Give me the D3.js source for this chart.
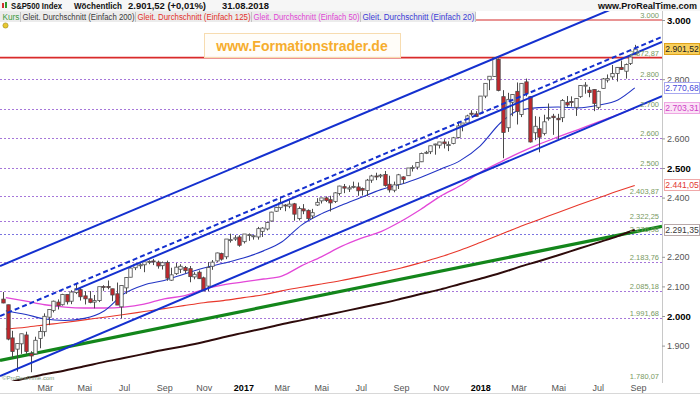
<!DOCTYPE html>
<html>
<head>
<meta charset="utf-8">
<script src="https://cdn.jsdelivr.net/npm/d3@7"></script>
<style>
  body { margin: 0; background: #fff; }
  svg { display: block; font-family: "Liberation Sans", Arial, sans-serif; }
</style>
</head>
<body>
<svg id="chart" width="700" height="394"></svg>
<script>
// weekly candles, first week starts 2015-12-28
var firstWeek = "2015-12-28";
var open = [2057,2038,1926,1888,1906,1936,1873,1872,1924,1947,1996,2019,2047,2038,2073,2050,2079,2089,2068,2058,2047,2052,2100,2100,2092,2075,2031,2095,2131,2163,2173,2173,2184,2186,2182,2170,2181,2121,2143,2158,2164,2160,2132,2148,2129,2101,2168,2186,2211,2200,2258,2260,2267,
  2251,2273,2269,2267,2286,2294,2321,2354,2366,2375,2371,2379,2329,2362,2357,2338,2375,2389,2399,2393,2387,2414,2437,2429,2437,2436,2431,2424,2459,2473,2475,2478,2445,2425,2444,2470,2474,2502,2503,2521,2551,2555,2578,2577,2588,2577,2583,2603,2645,2652,2685,2683,
  2684,2743,2798,2809,2867,2741,2636,2722,2759,2681,2791,2741,2619,2633,2617,2670,2675,2668,2670,2722,2725,2705,2741,2780,2763,2765,2705,2769,2797,2808,2819,2840,2827,2853,2884];
var high = [2081,2038,1950,1908,1940,1947,1881,1930,1963,2009,2022,2052,2056,2075,2073,2087,2111,2096,2084,2084,2071,2094,2104,2120,2092,2113,2103,2131,2169,2175,2178,2183,2188,2193,2187,2184,2187,2163,2179,2175,2169,2169,2148,2154,2133,2182,2189,2214,2214,2260,2278,2273,2273,
  2277,2279,2273,2301,2300,2319,2352,2369,2401,2378,2391,2382,2370,2378,2360,2362,2398,2399,2404,2406,2418,2440,2446,2441,2454,2451,2434,2463,2477,2484,2480,2490,2474,2454,2480,2472,2500,2509,2520,2552,2558,2575,2582,2588,2597,2590,2605,2657,2651,2680,2695,2692,
  2743,2787,2808,2873,2870,2763,2754,2748,2789,2787,2802,2742,2675,2673,2680,2718,2683,2683,2733,2743,2742,2736,2779,2790,2774,2766,2762,2804,2816,2848,2841,2863,2853,2877,2916];
var low = [2043,1918,1857,1812,1872,1872,1810,1872,1891,1931,1969,2012,2022,2035,2039,2040,2074,2052,2039,2043,2026,2047,2085,2090,2050,2037,1992,2075,2131,2155,2159,2148,2175,2172,2160,2157,2119,2119,2139,2145,2144,2114,2124,2125,2084,2084,2156,2183,2187,2192,2248,2254,2234,
  2245,2254,2258,2258,2267,2289,2319,2352,2358,2354,2364,2322,2323,2344,2324,2328,2372,2380,2385,2353,2382,2407,2415,2419,2431,2406,2407,2405,2450,2459,2466,2437,2417,2418,2429,2446,2474,2488,2495,2520,2547,2547,2545,2566,2566,2557,2580,2600,2624,2651,2676,2673,
  2683,2736,2763,2808,2759,2533,2622,2675,2647,2672,2742,2586,2594,2553,2610,2660,2612,2594,2655,2707,2707,2676,2737,2751,2739,2692,2698,2769,2789,2799,2792,2831,2802,2848,2884];
var close = [2044,1922,1880,1907,1940,1880,1865,1918,1948,1999,2022,2050,2035,2073,2048,2081,2092,2065,2058,2046,2052,2099,2099,2096,2071,2037,2103,2130,2162,2175,2173,2183,2184,2184,2169,2180,2128,2139,2165,2168,2153,2133,2141,2126,2085,2164,2182,2213,2192,2260,2258,2264,2239,
  2277,2275,2271,2295,2297,2316,2351,2367,2383,2373,2378,2344,2363,2355,2329,2349,2384,2399,2390,2382,2416,2439,2432,2433,2438,2423,2425,2459,2473,2472,2476,2441,2426,2443,2477,2461,2500,2502,2519,2549,2553,2575,2581,2588,2582,2579,2602,2642,2652,2676,2683,2674,
  2743,2786,2810,2873,2762,2620,2732,2748,2691,2786,2752,2588,2641,2604,2656,2670,2670,2663,2728,2713,2721,2735,2779,2780,2755,2718,2759,2801,2802,2819,2840,2833,2850,2875,2901.52];

// moving averages (monthly samples)
var maDates = ["2016-01-01","2016-02-01","2016-03-01","2016-04-01","2016-05-01","2016-06-01","2016-07-01","2016-08-01","2016-09-01","2016-10-01","2016-11-01","2016-12-01",
  "2017-01-01","2017-02-01","2017-03-01","2017-04-01","2017-05-01","2017-06-01","2017-07-01","2017-08-01","2017-09-01","2017-10-01","2017-11-01","2017-12-01",
  "2018-01-01","2018-02-01","2018-03-01","2018-04-01","2018-05-01","2018-06-01","2018-07-01","2018-08-01","2018-08-27"];
var sma20 = [2018,2005,1990,1985,1992,2018,2075,2105,2120,2141,2162,2178,2196,2220,2250,2308,2345,2374,2400,2427,2445,2468,2496,2525,2575,2652,2694,2704,2706,2703,2712,2730,2770.68];
var sma50 = [2062,2050,2038,2030,2027,2027,2030,2040,2058,2068,2090,2105,2115,2125,2135,2170,2200,2235,2262,2285,2320,2360,2405,2440,2485,2520,2550,2580,2605,2630,2655,2680,2703.31];
var sma125 = [1956,1962,1970,1978,1987,1996,2005,2015,2025,2035,2045,2052,2062,2072,2085,2097,2108,2120,2133,2147,2162,2180,2200,2222,2248,2275,2300,2325,2350,2375,2398,2422,2441.05];
var sma200 = [1772,1790,1803,1816,1830,1845,1858,1872,1886,1898,1912,1928,1943,1958,1972,1986,2000,2014,2028,2042,2058,2074,2090,2108,2126,2145,2165,2185,2205,2227,2248,2270,2291.35];

// drawn trend lines: [date, value] end points
var channelUpper = [["2015-12-23", 2169], ["2018-10-08", 3108]];
var channelDashed = [["2015-12-23", 2000], ["2018-10-08", 2943]];
var channelMiddle = [["2016-04-17", 2088], ["2018-10-08", 2926]];
var channelLower = [["2015-12-23", 1797], ["2018-10-08", 2743]];
var greenTrend = [["2015-12-23", 1850], ["2018-10-08", 2303]];

var redLevels = [3000, 2872.87];
var fibLevels = [2800, 2700, 2600, 2500, 2403.87, 2322.25, 2276.98, 2183.76, 2085.18, 1991.68, 1780.07];
// 2.900, 2.700 and 2.300 sit under the last-value boxes
var axisTicks = [3000, 2800, 2600, 2500, 2400, 2200, 2100, 2000, 1900];
var monthTicks = ["2016-03-01","2016-05-01","2016-07-01","2016-09-01","2016-11-01","2017-01-01","2017-03-01","2017-05-01","2017-07-01","2017-09-01","2017-11-01","2018-01-01","2018-03-01","2018-05-01","2018-07-01","2018-09-01"];
var monthNames = ["Jan","Feb","Mär","Apr","Mai","Jun","Jul","Aug","Sep","Okt","Nov","Dez"];

var parseDate = d3.timeParse("%Y-%m-%d");
var de = d3.formatLocale({decimal: ",", thousands: ".", grouping: [3], currency: ["", " €"]});
var fmtInt = de.format(",.0f"), fmt2 = de.format(",.2f");
function fmtVal(v) { return v % 1 === 0 ? fmtInt(v) : fmt2(v); }

var plot = { left: 0, right: 662, top: 11, bottom: 381 };
var svg = d3.select("#chart");

var x = d3.scaleTime().domain([parseDate("2015-12-23"), parseDate("2018-10-08")]).range([plot.left, plot.right]);
var y = d3.scaleLinear().domain([2000, 3000]).range([316, 20]);

var start = parseDate(firstWeek);
var candles = close.map(function (c, i) {
    return { date: d3.timeWeek.offset(start, i), o: open[i], h: high[i], l: low[i], c: c };
});

svg.append("rect").attr("width", 700).attr("height", 394).attr("fill", "#fff");
svg.append("defs").append("clipPath").attr("id", "plotClip")
    .append("rect").attr("x", plot.left).attr("y", plot.top)
    .attr("width", plot.right - plot.left).attr("height", plot.bottom - plot.top);

var g = svg.append("g").attr("clip-path", "url(#plotClip)");

// fib / support levels
g.selectAll("line.fib").data(fibLevels).enter().append("line")
    .attr("class", "fib")
    .attr("x1", plot.left).attr("x2", plot.right)
    .attr("y1", function (d) { return Math.round(y(d)) + 0.5; })
    .attr("y2", function (d) { return Math.round(y(d)) + 0.5; })
    .attr("stroke", function (d) { return d === 2276.98 ? "#7b74e0" : "#a677da"; })
    .attr("stroke-width", 1)
    .attr("stroke-dasharray", "2,2");

g.selectAll("line.red").data(redLevels).enter().append("line")
    .attr("class", "red")
    .attr("x1", plot.left).attr("x2", plot.right)
    .attr("y1", function (d) { return y(d); })
    .attr("y2", function (d) { return y(d); })
    .attr("stroke", function (d, i) { return i === 0 ? "#e27070" : "#d92b2b"; })
    .attr("stroke-width", 1.6);

// moving averages
var maLine = d3.line()
    .x(function (d) { return x(d.date); })
    .y(function (d) { return y(d.v); })
    .curve(d3.curveMonotoneX);
function maData(vals) {
    return vals.map(function (v, i) { return { date: parseDate(maDates[i]), v: v }; });
}
var maSeries = [
    { vals: sma200, color: "#2e0b0b", width: 2 },
    { vals: sma125, color: "#e8382c", width: 1.1 },
    { vals: sma50, color: "#e348d8", width: 1.3 },
    { vals: sma20, color: "#2234c4", width: 1.1 }
];

// green trend sits under the averages
var trendLine = d3.line()
    .x(function (d) { return x(parseDate(d[0])); })
    .y(function (d) { return y(d[1]); });
g.append("path").attr("d", trendLine(greenTrend))
    .attr("fill", "none").attr("stroke", "#13861b").attr("stroke-width", 3.2);

maSeries.forEach(function (s) {
    g.append("path").attr("d", maLine(maData(s.vals)))
        .attr("fill", "none").attr("stroke", s.color).attr("stroke-width", s.width);
});

// candles
var bw = 3.4;
var cg = g.selectAll("g.candle").data(candles).enter().append("g").attr("class", "candle");
cg.append("line")
    .attr("x1", function (d) { return Math.round(x(d.date)) + 0.5; })
    .attr("x2", function (d) { return Math.round(x(d.date)) + 0.5; })
    .attr("y1", function (d) { return y(d.h); })
    .attr("y2", function (d) { return y(d.l); })
    .attr("stroke", "#4a4a4a").attr("stroke-width", 1);
cg.append("rect")
    .attr("x", function (d) { return Math.round(x(d.date)) + 0.5 - bw / 2; })
    .attr("width", bw)
    .attr("y", function (d) { return y(Math.max(d.o, d.c)); })
    .attr("height", function (d) { return Math.max(1, Math.abs(y(d.o) - y(d.c))); })
    .attr("fill", function (d) { return d.c >= d.o ? "#ffffff" : "#c4262b"; })
    .attr("stroke", "#4a4a4a").attr("stroke-width", 0.8);

// channel lines
[
    { pts: channelUpper, dash: null },
    { pts: channelDashed, dash: "5,3" },
    { pts: channelMiddle, dash: null },
    { pts: channelLower, dash: null }
].forEach(function (c) {
    g.append("path").attr("d", trendLine(c.pts))
        .attr("fill", "none").attr("stroke", "#1430cf").attr("stroke-width", 2)
        .attr("stroke-dasharray", c.dash);
});

// level value labels
svg.selectAll("text.lvl").data(redLevels.concat(fibLevels)).enter().append("text")
    .attr("class", "lvl")
    .attr("x", 659).attr("y", function (d) { return y(d) - 2; })
    .attr("text-anchor", "end")
    .attr("font-size", "7.5px").attr("fill", "#789a62")
    .text(function (d) { return fmtVal(d); });

// watermark
svg.append("rect").attr("x", 204.5).attr("y", 33.5).attr("width", 196).attr("height", 24)
    .attr("fill", "#fffdf8").attr("fill-opacity", 0.85).attr("stroke", "#f7dcb0");
svg.append("text").attr("x", 302).attr("y", 51)
    .attr("text-anchor", "middle").attr("font-size", "14px").attr("font-weight", "bold")
    .attr("fill", "#f6ad2e").text("www.Formationstrader.de");

// right axis
svg.append("line").attr("x1", 662.5).attr("x2", 662.5).attr("y1", plot.top).attr("y2", plot.bottom + 2)
    .attr("stroke", "#c8c8c8");
var yAxis = d3.axisRight(y).tickValues(axisTicks).tickSize(3).tickPadding(2)
    .tickFormat(function (d) { return fmtInt(d); });
var ya = svg.append("g").attr("transform", "translate(662,0)").call(yAxis);
ya.select(".domain").remove();
ya.selectAll(".tick line").attr("stroke", "#999");
ya.selectAll(".tick text")
    .attr("font-family", "Liberation Sans, Arial, sans-serif")
    .attr("font-size", function (d) { return d % 500 === 0 ? "9.5px" : "9px"; })
    .attr("font-weight", function (d) { return d % 500 === 0 ? "bold" : "normal"; })
    .attr("fill", function (d) { return d % 500 === 0 ? "#000" : "#555"; });

// last value boxes
var lastBoxes = [
    { v: close[close.length - 1], fill: "#f7cf5c", stroke: "#e0a21a", text: "#222" },
    { v: sma20[sma20.length - 1], fill: "#ffffff", stroke: "#a8a8f0", text: "#4747d8" },
    { v: sma50[sma50.length - 1], fill: "#fbe3f6", stroke: "#eea6e2", text: "#cf3fc6" },
    { v: sma125[sma125.length - 1], fill: "#ffffff", stroke: "#f0a8a8", text: "#e23a32" },
    { v: sma200[sma200.length - 1], fill: "#ffffff", stroke: "#b8a8a8", text: "#3a3a3a" }
];
var bx = svg.selectAll("g.box").data(lastBoxes).enter().append("g").attr("class", "box")
    .attr("transform", function (d) { return "translate(664," + Math.round(y(d.v)) + ")"; });
bx.append("rect").attr("x", 0.5).attr("y", -5.5).attr("width", 35).attr("height", 11)
    .attr("fill", function (d) { return d.fill; }).attr("stroke", function (d) { return d.stroke; });
bx.append("text").attr("x", 18).attr("y", 3.2).attr("text-anchor", "middle")
    .attr("font-size", "8.6px").attr("fill", function (d) { return d.text; })
    .text(function (d) { return fmt2(d.v); });

// bottom axis
var xAxis = d3.axisBottom(x).tickValues(monthTicks.map(parseDate)).tickSize(0).tickPadding(3)
    .tickFormat(function (d) { return d.getMonth() === 0 ? d.getFullYear() : monthNames[d.getMonth()]; });
var xa = svg.append("g").attr("transform", "translate(0," + (plot.bottom + 1) + ")").call(xAxis);
xa.select(".domain").remove();
xa.selectAll(".tick text")
    .attr("font-family", "Liberation Sans, Arial, sans-serif")
    .attr("font-size", "9px")
    .attr("font-weight", function (d) { return d.getMonth() === 0 ? "bold" : "normal"; })
    .attr("fill", function (d) { return d.getMonth() === 0 ? "#000" : "#555"; });
svg.append("line").attr("x1", 0).attr("x2", 700).attr("y1", 393.5).attr("y2", 393.5).attr("stroke", "#d8d8d8");

svg.append("text").attr("x", 2).attr("y", 380).attr("font-size", "6px").attr("fill", "#7a9a7a")
    .text("©ProRealTime.com");

// header rows
svg.append("rect").attr("x", 0).attr("y", 0).attr("width", 700).attr("height", 11).attr("fill", "#f6f6f6");
svg.append("rect").attr("x", 0).attr("y", 11).attr("width", 476).attr("height", 11).attr("fill", "#ececec");
svg.append("rect").attr("x", 2).attr("y", 3).attr("width", 2).attr("height", 5).attr("fill", "#d23030");
svg.append("rect").attr("x", 5).attr("y", 2).attr("width", 2).attr("height", 6).attr("fill", "#2f9a2f");
var head = [
    { t: "S&P500 Index", x: 11, w: 51 },
    { t: "Wöchentlich", x: 74, w: 48 },
    { t: "2.901,52 (+0,01%)", x: 128, w: 78 },
    { t: "31.08.2018", x: 222, w: 47 }
];
svg.selectAll("text.head").data(head).enter().append("text").attr("class", "head")
    .attr("x", function (d) { return d.x; }).attr("y", 9)
    .attr("font-size", "8.6px").attr("font-weight", "bold").attr("fill", "#111")
    .attr("textLength", function (d) { return d.w; })
    .attr("lengthAdjust", "spacingAndGlyphs")
    .text(function (d) { return d.t; });
svg.append("text").attr("x", 697).attr("y", 9).attr("text-anchor", "end")
    .attr("font-size", "9px").attr("font-weight", "bold").attr("fill", "#111")
    .text("www.ProRealTime.com");

var legend = [
    { t: "Kurs", c: "#3d9a3d", x0: 1, x1: 21 },
    { t: "Gleit. Durchschnitt (Einfach 200)", c: "#3a3a3a", x0: 21, x1: 136 },
    { t: "Gleit. Durchschnitt (Einfach 125)", c: "#e2302a", x0: 136, x1: 252 },
    { t: "Gleit. Durchschnitt (Einfach 50)", c: "#e045d4", x0: 252, x1: 361 },
    { t: "Gleit. Durchschnitt (Einfach 20)", c: "#3a3ad6", x0: 361, x1: 476 }
];
var lg = svg.selectAll("g.lg").data(legend).enter().append("g").attr("class", "lg");
lg.append("line")
    .attr("x1", function (d) { return d.x1 - 0.5; }).attr("x2", function (d) { return d.x1 - 0.5; })
    .attr("y1", 12).attr("y2", 22).attr("stroke", "#c4c4c4");
lg.append("text")
    .attr("x", function (d) { return d.x0 + 1.5; }).attr("y", 19.5)
    .attr("font-size", "8.5px").attr("fill", function (d) { return d.c; })
    .attr("textLength", function (d) { return d.x1 - d.x0 - 3; })
    .attr("lengthAdjust", "spacingAndGlyphs")
    .text(function (d) { return d.t; });

svg.append("circle").attr("cx", 5.5).attr("cy", 25.5).attr("r", 2.6).attr("fill", "#e8c832").attr("stroke", "#9a8a20").attr("stroke-width", 0.6);
</script>
</body>
</html>
